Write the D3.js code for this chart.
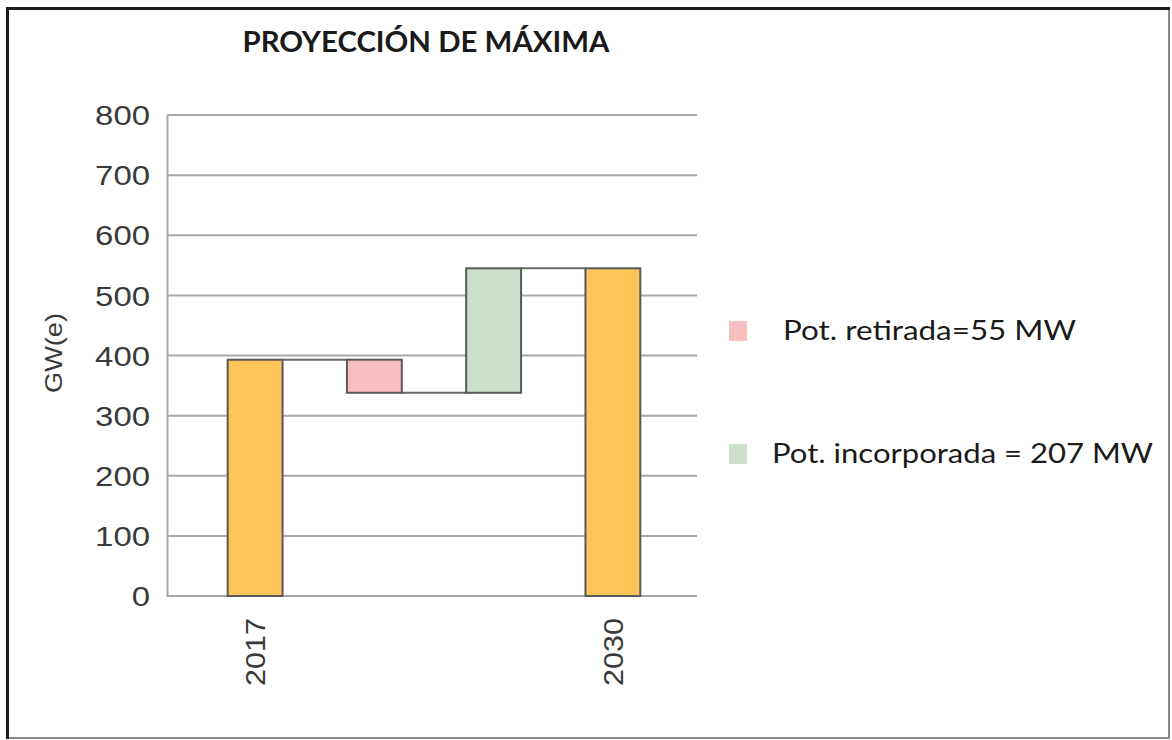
<!DOCTYPE html>
<html>
<head>
<meta charset="utf-8">
<script src="https://cdn.jsdelivr.net/npm/d3@7"></script>
<style>
  html, body { margin: 0; padding: 0; background: #fff; }
  svg { display: block; }
</style>
</head>
<body>
<svg id="chart" width="1172" height="740"></svg>
<script>
// Waterfall data: starting capacity, changes, resulting capacity (GW(e))
const categories = ["2017", "retirada", "incorporada", "2030"];
const axisLabels = ["2017", "", "", "2030"];
const startValue = 393;
const stepNames = ["Pot. retirada", "Pot. incorporada"];
const stepValues = [-55, 207];
const yTicks = [0, 100, 200, 300, 400, 500, 600, 700, 800];
const legendTexts = ["Pot. retirada=55 MW", "Pot. incorporada = 207 MW"];

const colors = {
  total: "#FEC457",
  down: "#F8BEC0",
  up: "#CDE0CB",
  edge: "#595959",
  grid: "#A8A8A8"
};

const svg = d3.select("#chart");

// Frame around the whole figure
svg.append("line").attr("x1", 1169).attr("y1", 8).attr("x2", 1169).attr("y2", 738)
  .attr("stroke", "#8a8a8a").attr("stroke-width", 2);
svg.append("line").attr("x1", 7).attr("y1", 738).attr("x2", 1170).attr("y2", 738)
  .attr("stroke", "#8a8a8a").attr("stroke-width", 2);
svg.append("line").attr("x1", 7).attr("y1", 8.5).attr("x2", 1170).attr("y2", 8.5)
  .attr("stroke", "#1a1a1a").attr("stroke-width", 3);
svg.append("line").attr("x1", 7.5).attr("y1", 7).attr("x2", 7.5).attr("y2", 739)
  .attr("stroke", "#1a1a1a").attr("stroke-width", 3);

// Build waterfall segments from the running total
let running = startValue;
const segments = [{ key: categories[0], y0: 0, y1: startValue, type: "total" }];
stepValues.forEach((v, i) => {
  const from = running;
  running += v;
  segments.push({ key: categories[i + 1], y0: Math.min(from, running), y1: Math.max(from, running),
    from, to: running, type: v < 0 ? "down" : "up" });
});
segments.push({ key: categories[3], y0: 0, y1: running, type: "total" });

const x = d3.scaleBand().domain(categories).range([195.5, 672.5])
  .paddingInner(0.54).paddingOuter(0.27);
const y = d3.scaleLinear().domain([0, 800]).range([596, 115]);

const plotLeft = 167, plotRight = 697;

// Gridlines
svg.append("g")
  .selectAll("line")
  .data(yTicks)
  .join("line")
  .attr("x1", plotLeft).attr("x2", plotRight)
  .attr("y1", d => y(d)).attr("y2", d => y(d))
  .attr("stroke", colors.grid).attr("stroke-width", 2);

// Y axis line and labels
const yAxis = d3.axisLeft(y).tickValues(yTicks).tickSize(0).tickPadding(17);
const yAxisG = svg.append("g").attr("transform", `translate(${plotLeft},0)`).call(yAxis);
yAxisG.select(".domain").attr("stroke", colors.grid).attr("stroke-width", 2);
yAxisG.selectAll("text")
  .attr("font-family", "Liberation Sans, Arial, sans-serif")
  .attr("font-size", 27)
  .attr("fill", "#3a3a3a")
  .attr("dy", "0.36em")
  .attr("textLength", d => String(d).length * 18.3)
  .attr("lengthAdjust", "spacingAndGlyphs");

// Y axis title
svg.append("text")
  .attr("transform", "translate(62,353) rotate(-90)")
  .attr("text-anchor", "middle")
  .attr("font-family", "Liberation Sans, Arial, sans-serif")
  .attr("font-size", 24)
  .attr("fill", "#3a3a3a")
  .attr("textLength", 80)
  .attr("lengthAdjust", "spacingAndGlyphs")
  .text("GW(e)");

// Connector lines between consecutive bars
const connectorLevels = [startValue];
{
  let r = startValue;
  stepValues.forEach(v => { r += v; connectorLevels.push(r); });
}
svg.append("g")
  .selectAll("line")
  .data(connectorLevels)
  .join("line")
  .attr("x1", (d, i) => x(categories[i]) + x.bandwidth())
  .attr("x2", (d, i) => x(categories[i + 1]))
  .attr("y1", d => y(d)).attr("y2", d => y(d))
  .attr("stroke", "#6a6a6a").attr("stroke-width", 2);

// Bars
svg.append("g")
  .selectAll("rect")
  .data(segments)
  .join("rect")
  .attr("x", d => x(d.key))
  .attr("width", x.bandwidth())
  .attr("y", d => y(d.y1))
  .attr("height", d => y(d.y0) - y(d.y1))
  .attr("fill", d => colors[d.type])
  .attr("stroke", colors.edge)
  .attr("stroke-width", 2);

// Category labels (rotated)
svg.append("g")
  .selectAll("text")
  .data(categories.filter((c, i) => axisLabels[i] !== ""))
  .join("text")
  .attr("transform", d => `translate(${x(d) + x.bandwidth() / 2 + 10},618) rotate(-90)`)
  .attr("text-anchor", "end")
  .attr("font-family", "Liberation Sans, Arial, sans-serif")
  .attr("font-size", 27)
  .attr("fill", "#3a3a3a")
  .attr("textLength", 68)
  .attr("lengthAdjust", "spacingAndGlyphs")
  .text(d => axisLabels[categories.indexOf(d)]);

// Title
svg.append("text")
  .attr("x", 426).attr("y", 52)
  .attr("text-anchor", "middle")
  .attr("font-family", "Lato, Open Sans, sans-serif")
  .attr("font-weight", "bold")
  .attr("font-size", 28)
  .attr("fill", "#1a1a1a")
  .attr("textLength", 367)
  .attr("lengthAdjust", "spacingAndGlyphs")
  .text("PROYECCIÓN DE MÁXIMA");

// Legend
const legendItems = [
  { text: legendTexts[0], color: colors.down, sx: 729, sy: 321, tx: 783, ty: 340, w: 293 },
  { text: legendTexts[1], color: colors.up, sx: 729, sy: 444, tx: 772, ty: 463, w: 381 }
];
const legend = svg.append("g");
legend.selectAll("rect")
  .data(legendItems)
  .join("rect")
  .attr("x", d => d.sx).attr("y", d => d.sy)
  .attr("width", 18).attr("height", 20)
  .attr("fill", d => d.color);
legend.selectAll("text")
  .data(legendItems)
  .join("text")
  .attr("x", d => d.tx).attr("y", d => d.ty)
  .attr("font-family", "Lato, Open Sans, sans-serif")
  .attr("font-size", 27)
  .attr("fill", "#1a1a1a")
  .attr("textLength", d => d.w)
  .attr("lengthAdjust", "spacingAndGlyphs")
  .text(d => d.text);
</script>
</body>
</html>
